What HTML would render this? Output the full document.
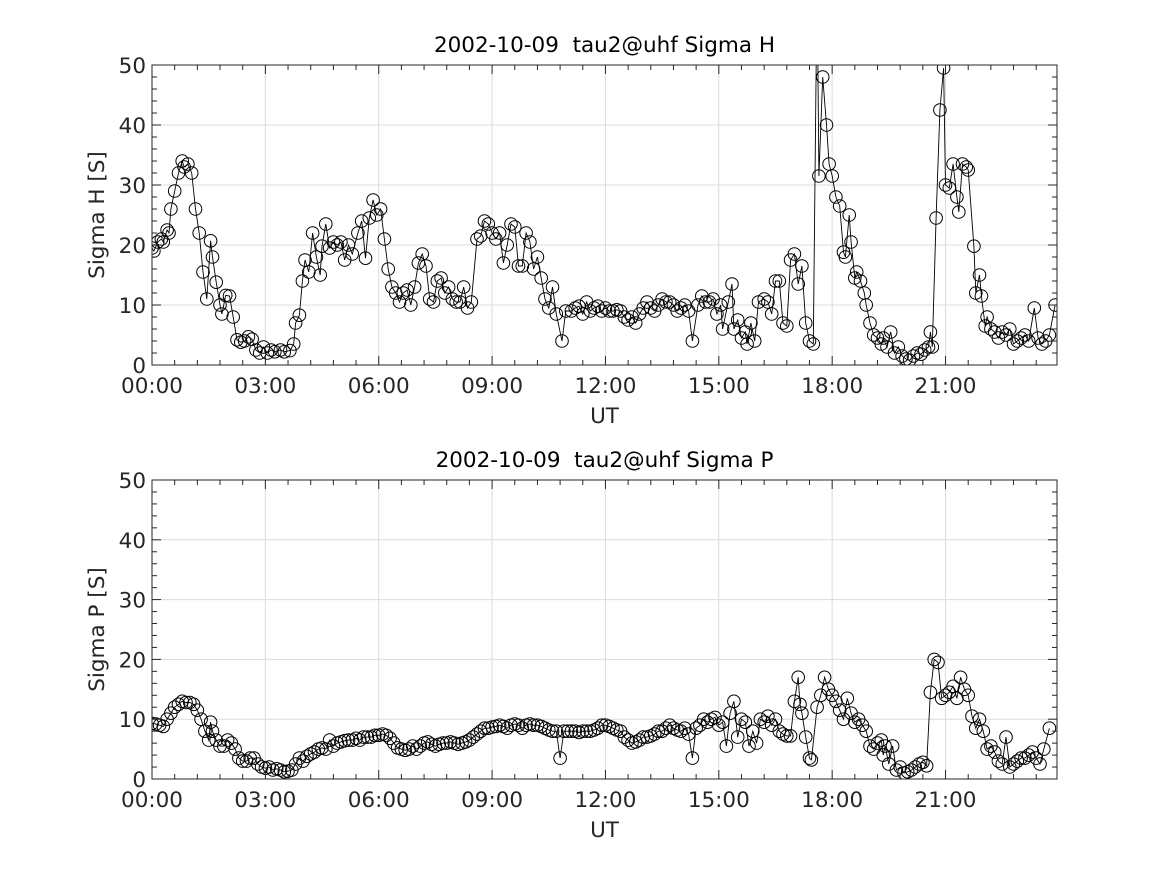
<!DOCTYPE html>
<html><head><meta charset="utf-8">
<style>
html,body{margin:0;padding:0;background:#fff;}
svg{display:block;font-family:"DejaVu Sans","Liberation Sans",sans-serif;}
</style></head>
<body>
<svg id="fig" width="1167" height="875" viewBox="0 0 1167 875" xmlns="http://www.w3.org/2000/svg"></svg>
<script>
const hTimes=[0,0.05,0.15,0.25,0.3,0.4,0.45,0.5,0.6,0.7,0.8,0.85,0.95,1.05,1.15,1.25,1.35,1.45,1.55,1.6,1.7,1.8,1.85,1.95,2.05,2.15,2.25,2.35,2.45,2.55,2.65,2.75,2.85,2.95,3.05,3.15,3.25,3.4,3.5,3.65,3.75,3.8,3.9,3.98,4.05,4.15,4.25,4.35,4.45,4.5,4.6,4.7,4.8,4.9,5.0,5.1,5.2,5.3,5.45,5.55,5.65,5.75,5.85,5.95,6.05,6.15,6.25,6.35,6.45,6.55,6.65,6.75,6.85,6.95,7.05,7.15,7.25,7.35,7.45,7.55,7.65,7.75,7.85,7.95,8.05,8.15,8.25,8.35,8.45,8.6,8.7,8.8,8.9,9.0,9.1,9.2,9.3,9.4,9.5,9.6,9.7,9.8,9.9,10.0,10.1,10.2,10.3,10.4,10.5,10.6,10.7,10.85,10.95,11.1,11.2,11.3,11.4,11.5,11.6,11.7,11.8,11.9,12.0,12.1,12.2,12.3,12.4,12.5,12.6,12.7,12.8,12.9,13.0,13.1,13.2,13.3,13.4,13.5,13.6,13.7,13.8,13.9,14.0,14.1,14.2,14.3,14.45,14.55,14.65,14.75,14.85,14.95,15.05,15.1,15.25,15.35,15.4,15.5,15.6,15.7,15.75,15.85,15.95,16.05,16.2,16.3,16.4,16.5,16.6,16.7,16.8,16.9,17.0,17.1,17.2,17.3,17.4,17.5,17.6,17.65,17.75,17.85,17.92,18.0,18.1,18.2,18.3,18.35,18.45,18.5,18.6,18.65,18.75,18.85,18.9,19.0,19.1,19.2,19.3,19.35,19.45,19.55,19.65,19.75,19.85,19.95,20.05,20.15,20.25,20.35,20.45,20.55,20.6,20.65,20.75,20.85,20.95,21.0,21.1,21.2,21.3,21.35,21.45,21.55,21.6,21.75,21.8,21.9,21.95,22.05,22.1,22.2,22.3,22.4,22.5,22.6,22.7,22.8,22.9,23.0,23.1,23.2,23.35,23.45,23.55,23.65,23.75,23.9];
const hValues=[19.5,19,20.5,21,20.5,22.5,22,26,29,32,34,33,33.5,32,26,22,15.5,11,20.7,18,13.8,10,8.5,11.6,11.5,8,4.2,3.8,4,4.7,4.3,2.5,2,3,2,2.5,2.2,2.5,2.2,2.4,3.5,7,8.3,14,17.5,15.5,22,18,15,19.8,23.5,19.5,20.5,20,20.5,17.5,20,18.5,22,24,17.8,24.5,27.5,25,26,21,16,13,12,10.5,12,12.5,10,13,17,18.5,16.5,11,10.5,14,14.5,12,13,11,10.5,10.5,13,9.5,10.5,21,21.5,24,23.5,22,21,22,17,20,23.5,23,16.5,16.5,22,20.5,16,18,14.5,11,9.5,13,8.5,4,9,9,9.5,9.8,8.5,10.5,9,9.5,9.8,9,9.5,9,9,9.2,9,8,7.5,8,7,8.5,9.5,10.5,9.5,9,10,11,10.5,10.5,10,9,9.5,10,9,4,10,11.5,10.5,10.5,11,8.5,10,6,10.5,13.5,6,7.5,4.5,5.5,3.5,7,4,10.5,11,10.5,8.5,14,14,7,6.5,17.5,18.5,13.5,16.5,7,4,3.5,65,31.5,48,40,33.5,31.5,28,26.5,18.8,18,25,20.5,14.5,15.5,14,12,10,7,5,4.5,3.5,4.5,3,5.5,2,3,1.5,1,0.8,1.5,2,1.8,2.5,3,5.5,3,24.5,42.5,49.5,30,29.5,33.5,28,25.5,33.5,33,32.5,19.8,12,15,11.5,6.5,8,6,5.5,4.5,5.5,5,6,3.5,4,4.5,5,4,9.5,4.5,3.5,4,5,10];
const pTimes=[0,0.1,0.2,0.3,0.4,0.5,0.6,0.7,0.8,0.9,1.0,1.1,1.2,1.3,1.4,1.5,1.55,1.6,1.7,1.8,1.9,2.0,2.1,2.2,2.3,2.4,2.5,2.6,2.7,2.8,2.9,3.0,3.1,3.2,3.3,3.4,3.5,3.6,3.7,3.8,3.9,4.0,4.1,4.2,4.3,4.4,4.5,4.6,4.7,4.8,4.9,5.0,5.1,5.2,5.3,5.4,5.5,5.6,5.7,5.8,5.9,6.0,6.1,6.2,6.3,6.4,6.5,6.6,6.7,6.8,6.9,7.0,7.1,7.2,7.3,7.4,7.5,7.6,7.7,7.8,7.9,8.0,8.1,8.2,8.3,8.4,8.5,8.6,8.7,8.8,8.9,9.0,9.1,9.2,9.3,9.4,9.5,9.6,9.7,9.8,9.9,10.0,10.1,10.2,10.3,10.4,10.5,10.6,10.7,10.8,10.9,11.0,11.1,11.2,11.3,11.4,11.5,11.6,11.7,11.8,11.9,12.0,12.1,12.2,12.3,12.4,12.5,12.6,12.7,12.8,12.9,13.0,13.1,13.2,13.3,13.4,13.5,13.6,13.7,13.8,13.9,14.0,14.1,14.2,14.3,14.4,14.5,14.6,14.7,14.8,14.9,15.0,15.1,15.2,15.3,15.4,15.5,15.6,15.7,15.8,15.9,16.0,16.1,16.2,16.3,16.4,16.5,16.6,16.7,16.8,16.9,17.0,17.1,17.15,17.2,17.3,17.4,17.45,17.6,17.7,17.8,17.9,18.0,18.1,18.2,18.3,18.4,18.5,18.6,18.7,18.8,18.9,19.0,19.1,19.2,19.3,19.35,19.4,19.5,19.6,19.7,19.8,19.9,20.0,20.1,20.2,20.3,20.4,20.5,20.6,20.7,20.8,20.9,21.0,21.1,21.2,21.3,21.4,21.5,21.6,21.7,21.8,21.9,22.0,22.1,22.2,22.3,22.4,22.5,22.6,22.7,22.8,22.9,23.0,23.1,23.2,23.3,23.4,23.5,23.6,23.75,23.9];
const pValues=[9.3,9.2,9,8.8,10,11,12,12.5,13,12.8,12.8,12.5,11.5,10,8,6.5,9.5,8,6.5,5.5,5.5,6.5,6,5,3.5,3,3,3.5,3.5,2.5,2,1.8,2,1.5,1.7,1.5,1.2,1.3,1.5,2.5,3.5,3,3.8,4.2,4.5,5,5.2,5,6.5,5.5,6,6.2,6.4,6.5,6.5,6.8,6.5,7,7,7,7.3,7.3,7.5,7.3,6.8,6,5.2,5,4.8,5,5.5,5,5.5,6,6.2,5.8,5.5,5.8,6,6,6.2,6,5.8,6,6.2,6.5,7,7.5,8,8.5,8.5,8.7,8.8,9,8.8,8.5,9,9.2,9,8.5,9,9.2,9,9,8.8,8.5,8.2,8,8,3.5,8,8,8,8,7.8,8,8,8,8.2,8.5,9,9,8.8,8.5,8.2,8,7,6.5,6,6.2,6.5,7,7,7.2,7.5,8,8,8.5,9,8.5,8.2,8,8.5,7.5,3.5,8.5,9,10,9.5,10,10.3,9,9.5,5.5,11,13,7,10,9.5,5.5,8,6,10,9.5,10.5,9,10,8,7.5,7.2,7.2,13,17,12.5,11,7,3.5,3.2,12,14,17,15,14,13,11.5,10,13.5,11,9.5,10,9,8,5.5,5,6,6.5,4,5.5,2.5,5.5,1.5,2,1,1.2,1.5,2,2.5,2.8,2.2,14.5,20,19.5,13.5,14,14.5,15.5,13.5,17,15,14,10.5,8.5,10,8,5,5.5,4.5,3,2.5,7,2,2.5,3,3.5,3.5,4,4.5,3.5,2.5,5,8.5];
const yTicks=[0,10,20,30,40,50];
const xTickHours=[0,3,6,9,12,15,18,21];
const xTickLabels=["00:00","03:00","06:00","09:00","12:00","15:00","18:00","21:00"];

const NS="http://www.w3.org/2000/svg";
const svg=document.getElementById('fig');
function mk(tag,attrs,parent){const e=document.createElementNS(NS,tag);for(const k in attrs)e.setAttribute(k,attrs[k]);(parent||svg).appendChild(e);return e;}

const X0=152,X1=1057,XMAX=23.95,FS=21.5;
function drawPanel(top,bottom,times,vals,title,ylab,key){
  const g=mk('g',{});
  
  
  const xs=t=>X0+(t/XMAX)*(X1-X0);
  const ys=v=>bottom-(v/50)*(bottom-top);
  const clipId='clip-'+key;
  const cp=mk('clipPath',{id:clipId},g);mk('rect',{x:X0,y:top,width:X1-X0,height:bottom-top},cp);
  xTickHours.forEach(h=>{if(h>0){const l=mk('line',{x1:xs(h),x2:xs(h),y1:top,y2:bottom,stroke:'#dcdcdc','stroke-width':1},g);}});
  yTicks.forEach(v=>{if(v>0&&v<50){const l=mk('line',{x1:X0,x2:X1,y1:ys(v),y2:ys(v),stroke:'#dcdcdc','stroke-width':1},g);}});
  const sg=mk('g',{'clip-path':'url(#'+clipId+')'},g);
  
  
  const pts=times.map((t,i)=>xs(t).toFixed(1)+','+ys(vals[i]).toFixed(1)).join(' ');
  const pl=mk('polyline',{points:pts,fill:'none',stroke:'#000','stroke-width':0.9},sg);
  
  
  times.forEach((t,i)=>{const c=mk('circle',{cx:xs(t).toFixed(1),cy:ys(vals[i]).toFixed(1),r:6.3,fill:'none',stroke:'#000','stroke-width':1},sg);
    
    });
  const b=mk('rect',{x:X0,y:top,width:X1-X0,height:bottom-top,fill:'none',stroke:'#262626','stroke-width':1},g);
  
  
  for(let h=0;h<=XMAX+1e-6;h+=0.6){const maj=Math.abs(h/3-Math.round(h/3))<1e-6;const L=maj?9:5;
    mk('line',{x1:xs(h),x2:xs(h),y1:bottom,y2:bottom-L,stroke:'#262626','stroke-width':1},g);
    mk('line',{x1:xs(h),x2:xs(h),y1:top,y2:top+L,stroke:'#262626','stroke-width':1},g);}
  for(let v=0;v<=50;v+=2){const maj=v%10===0;const L=maj?9:5;
    mk('line',{x1:X0,x2:X0+L,y1:ys(v),y2:ys(v),stroke:'#262626','stroke-width':1},g);
    mk('line',{x1:X1,x2:X1-L,y1:ys(v),y2:ys(v),stroke:'#262626','stroke-width':1},g);}
  yTicks.forEach(v=>{const t=mk('text',{x:X0-6,y:ys(v)+8,'text-anchor':'end','font-size':FS,fill:'#262626'},g);t.textContent=v;
    });
  xTickHours.forEach((h,i)=>{const t=mk('text',{x:xs(h),y:bottom+28,'text-anchor':'middle','font-size':FS,fill:'#262626'},g);t.textContent=xTickLabels[i];
    });
  const xl=mk('text',{x:(X0+X1)/2,y:bottom+58,'text-anchor':'middle','font-size':FS,fill:'#262626'},g);xl.textContent='UT';
  
  const yl=mk('text',{x:0,y:0,transform:'translate(104,'+((top+bottom)/2)+') rotate(-90)','text-anchor':'middle','font-size':FS,fill:'#262626'},g);yl.textContent=ylab;
  
  const tt=mk('text',{x:(X0+X1)/2,y:top-13,'text-anchor':'middle','font-size':FS,fill:'#000'},g);tt.textContent=title;
  
}
drawPanel(65,365,hTimes,hValues,'2002-10-09\u00a0\u00a0tau2@uhf Sigma H','Sigma H [S]','sigma-h');
drawPanel(480,779,pTimes,pValues,'2002-10-09\u00a0\u00a0tau2@uhf Sigma P','Sigma P [S]','sigma-p');
</script>
</body></html>
